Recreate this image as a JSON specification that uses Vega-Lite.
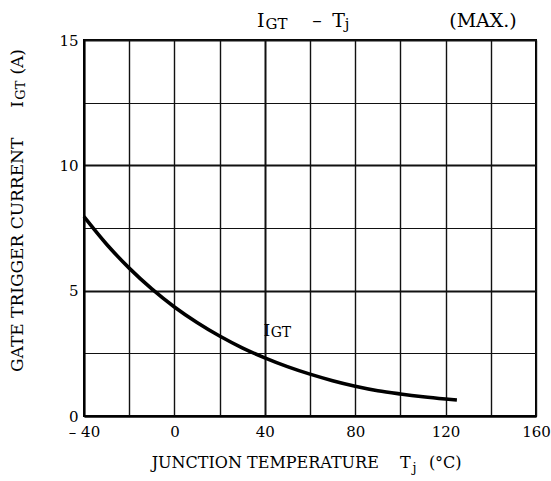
{
  "$schema": "https://vega.github.io/schema/vega-lite/v6.json",
  "width": 452,
  "height": 376,
  "autosize": "none",
  "padding": {"left": 84, "top": 40, "right": 15, "bottom": 65},
  "background": "white",
  "config": {
    "view": {"stroke": "black", "strokeWidth": 2},
    "text": {"font": "DejaVu Serif", "color": "black"}
  },
  "datasets": {
    "curve": [
      {"Tj": -40, "IGT": 7.95}, {"Tj": -30, "IGT": 6.85}, {"Tj": -20, "IGT": 5.9},
      {"Tj": -10, "IGT": 5.07}, {"Tj": 0, "IGT": 4.35}, {"Tj": 10, "IGT": 3.73},
      {"Tj": 20, "IGT": 3.19}, {"Tj": 30, "IGT": 2.72}, {"Tj": 40, "IGT": 2.32},
      {"Tj": 50, "IGT": 1.97}, {"Tj": 60, "IGT": 1.67}, {"Tj": 70, "IGT": 1.41},
      {"Tj": 80, "IGT": 1.19}, {"Tj": 90, "IGT": 1.01}, {"Tj": 100, "IGT": 0.88},
      {"Tj": 110, "IGT": 0.77}, {"Tj": 120, "IGT": 0.68}, {"Tj": 125, "IGT": 0.64}
    ],
    "titleText": [
      {"t": "I", "x": 36.6, "y": 15.518},
      {"t": "–", "x": 61.0, "y": 15.518},
      {"t": "T", "x": 69.9, "y": 15.518},
      {"t": "(MAX.)", "x": 121.6, "y": 15.518}
    ],
    "titleSub": [
      {"t": "GT", "x": 40.3, "y": 15.45},
      {"t": "j", "x": 75.4, "y": 15.42}
    ],
    "curveLabel": [
      {"t": "I", "x": 39.4, "y": 3.19}
    ],
    "curveSub": [
      {"t": "GT", "x": 42.6, "y": 3.15}
    ],
    "xTitle": [
      {"t": "JUNCTION TEMPERATURE", "x": -10.04, "y": -2.086},
      {"t": "T", "x": 99.8, "y": -2.086},
      {"t": "(°C)", "x": 112.6, "y": -2.086}
    ],
    "xSub": [
      {"t": "j", "x": 105.4, "y": -2.234}
    ],
    "yTitle": [
      {"t": "GATE TRIGGER CURRENT", "x": -67.1, "y": 1.755},
      {"t": "I", "x": -67.1, "y": 12.3},
      {"t": "(A)", "x": -67.1, "y": 13.62}
    ],
    "ySub": [
      {"t": "GT", "x": -66.2, "y": 12.62}
    ]
  },
  "layer": [
    {
      "data": {"name": "curve"},
      "mark": {"type": "line", "color": "black", "strokeWidth": 3.6, "interpolate": "monotone"},
      "encoding": {
        "x": {
          "field": "Tj", "type": "quantitative",
          "scale": {"domain": [-40, 160], "nice": false, "zero": false},
          "axis": {
            "title": null,
            "values": [-40, -20, 0, 20, 40, 60, 80, 100, 120, 140, 160],
            "labelExpr": "datum.value % 40 === 0 ? (datum.value < 0 ? '– ' + abs(datum.value) : datum.label) : ''",
            "labelOverlap": false, "labelFlush": false, "ticks": false,
            "domainColor": "black", "domainWidth": 2,
            "grid": true, "gridColor": "#111",
            "gridWidth": {"condition": {"test": "datum.value === 40", "value": 2}, "value": 1.4},
            "labelFont": "DejaVu Serif", "labelFontSize": 15, "labelColor": "black",
            "labelPadding": 8
          }
        },
        "y": {
          "field": "IGT", "type": "quantitative",
          "scale": {"domain": [0, 15], "nice": false},
          "axis": {
            "title": null,
            "values": [0, 2.5, 5, 7.5, 10, 12.5, 15],
            "labelExpr": "datum.value % 5 === 0 ? datum.label : ''",
            "labelOverlap": false, "labelFlush": false, "ticks": false,
            "domainColor": "black", "domainWidth": 2,
            "grid": true, "gridColor": "#111",
            "gridWidth": {"condition": {"test": "datum.value % 5 === 0", "value": 2}, "value": 1},
            "labelFont": "DejaVu Serif", "labelFontSize": 15, "labelColor": "black",
            "labelPadding": 6
          }
        }
      }
    },
    {
      "mark": {"type": "rect", "fill": "white"},
      "encoding": {
        "x": {"datum": 38.6}, "x2": {"datum": 40.6},
        "y": {"datum": 2.78}, "y2": {"datum": 4.1}
      }
    },
    {
      "data": {"name": "titleText"},
      "mark": {"type": "text", "fontSize": 19, "align": "left", "baseline": "alphabetic"},
      "encoding": {
        "x": {"field": "x", "type": "quantitative", "title": null},
        "y": {"field": "y", "type": "quantitative", "title": null},
        "text": {"field": "t"}
      }
    },
    {
      "data": {"name": "titleSub"},
      "mark": {"type": "text", "fontSize": 15, "align": "left", "baseline": "alphabetic"},
      "encoding": {
        "x": {"field": "x", "type": "quantitative", "title": null},
        "y": {"field": "y", "type": "quantitative", "title": null},
        "text": {"field": "t"}
      }
    },
    {
      "data": {"name": "curveLabel"},
      "mark": {"type": "text", "fontSize": 17, "align": "left", "baseline": "alphabetic"},
      "encoding": {
        "x": {"field": "x", "type": "quantitative", "title": null},
        "y": {"field": "y", "type": "quantitative", "title": null},
        "text": {"field": "t"}
      }
    },
    {
      "data": {"name": "curveSub"},
      "mark": {"type": "text", "fontSize": 14, "align": "left", "baseline": "alphabetic"},
      "encoding": {
        "x": {"field": "x", "type": "quantitative", "title": null},
        "y": {"field": "y", "type": "quantitative", "title": null},
        "text": {"field": "t"}
      }
    },
    {
      "data": {"name": "xTitle"},
      "mark": {"type": "text", "fontSize": 16, "align": "left", "baseline": "alphabetic"},
      "encoding": {
        "x": {"field": "x", "type": "quantitative", "title": null},
        "y": {"field": "y", "type": "quantitative", "title": null},
        "text": {"field": "t"}
      }
    },
    {
      "data": {"name": "xSub"},
      "mark": {"type": "text", "fontSize": 13, "align": "left", "baseline": "alphabetic"},
      "encoding": {
        "x": {"field": "x", "type": "quantitative", "title": null},
        "y": {"field": "y", "type": "quantitative", "title": null},
        "text": {"field": "t"}
      }
    },
    {
      "data": {"name": "yTitle"},
      "mark": {"type": "text", "fontSize": 17, "align": "left", "baseline": "alphabetic", "angle": 270},
      "encoding": {
        "x": {"field": "x", "type": "quantitative", "title": null},
        "y": {"field": "y", "type": "quantitative", "title": null},
        "text": {"field": "t"}
      }
    },
    {
      "data": {"name": "ySub"},
      "mark": {"type": "text", "fontSize": 13, "align": "left", "baseline": "alphabetic", "angle": 270},
      "encoding": {
        "x": {"field": "x", "type": "quantitative", "title": null},
        "y": {"field": "y", "type": "quantitative", "title": null},
        "text": {"field": "t"}
      }
    }
  ]
}
